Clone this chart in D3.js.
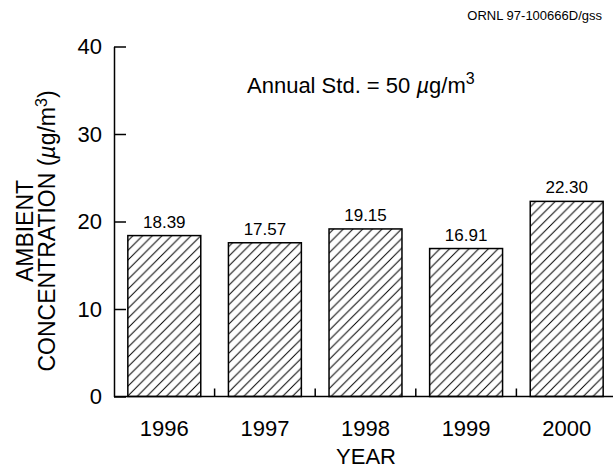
<!DOCTYPE html>
<html><head><meta charset="utf-8">
<script src="https://cdn.jsdelivr.net/npm/d3@7"></script>
<style>body{margin:0;background:#fff}svg{display:block}text{font-family:"Liberation Sans",Arial,Helvetica,sans-serif;fill:#000}</style>
</head><body>
<script>
const years = ["1996","1997","1998","1999","2000"];
const values = [18.39, 17.57, 19.15, 16.91, 22.30];
const valueLabels = ["18.39","17.57","19.15","16.91","22.30"];
const yTicks = [0, 10, 20, 30, 40];

const W = 613, H = 473;
const svg = d3.select("body").append("svg").attr("width", W).attr("height", H);

const defs = svg.append("defs");
const pat = defs.append("pattern").attr("id","hatch").attr("patternUnits","userSpaceOnUse")
  .attr("width",9.7).attr("height",9.7);
pat.append("rect").attr("width",9.7).attr("height",9.7).attr("fill","#fff");
pat.append("path").attr("d","M0,9.7 L9.7,0 M-2.5,2.5 L2.5,-2.5 M7.2,12.2 L12.2,7.2")
  .attr("stroke","#000").attr("stroke-width",1);

const x = d3.scaleBand().domain(years).range([114, 617]).paddingInner(0.275).paddingOuter(0.1375);
const y = d3.scaleLinear().domain([0, 40]).range([396.5, 46.5]);

// bars
svg.append("g").selectAll("rect").data(values).join("rect")
  .attr("x",(d,i)=>x(years[i])).attr("width",x.bandwidth())
  .attr("y",d=>y(d)).attr("height",d=>y(0)-y(d))
  .attr("fill","url(#hatch)").attr("stroke","#000").attr("stroke-width",1.5);

// value labels
svg.append("g").selectAll("text").data(values).join("text")
  .attr("x",(d,i)=>x(years[i])+x.bandwidth()/2).attr("y",d=>y(d)-8)
  .attr("text-anchor","middle").attr("font-size",17).text((d,i)=>valueLabels[i]);

// y axis
const yAxis = d3.axisLeft(y).tickValues(yTicks).tickSizeInner(-12).tickSizeOuter(0).tickPadding(12);
const gy = svg.append("g").attr("transform","translate(114,0)").call(yAxis);
gy.selectAll("path,line").attr("stroke","#000").attr("stroke-width",1.5);
gy.selectAll("text").attr("font-size",22).attr("font-family",null);

// x axis
const xAxis = d3.axisBottom(x).tickSize(0).tickPadding(24);
const gx = svg.append("g").attr("transform","translate(0,"+y(0)+")").call(xAxis);
gx.select("path").attr("d","M114,0H613").attr("stroke","#000").attr("stroke-width",1.5);
gx.selectAll("text").attr("font-size",22).attr("font-family",null);
// boundary ticks
const bounds = years.slice(1).map(yr => x(yr) - x.step()*x.paddingInner()/2);
gx.append("g").selectAll("line").data(bounds).join("line")
  .attr("x1",d=>d).attr("x2",d=>d).attr("y1",0).attr("y2",-8)
  .attr("stroke","#000").attr("stroke-width",1.5);

// axis titles
svg.append("text").attr("x",366).attr("y",464).attr("text-anchor","middle").attr("font-size",22).text("YEAR");
const yt = svg.append("g").attr("transform","translate(0,231) rotate(-90)");
yt.append("text").attr("x",0).attr("y",33).attr("text-anchor","middle").attr("font-size",23).text("AMBIENT");
const t2 = yt.append("text").attr("x",0).attr("y",55).attr("text-anchor","middle").attr("font-size",23);
t2.append("tspan").text("CONCENTRATION (");
t2.append("tspan").attr("font-style","italic").text("\u00b5");
t2.append("tspan").text("g/m");
t2.append("tspan").attr("font-size",16).attr("dy",-8).text("3");
t2.append("tspan").attr("dy",8).text(")");

// annotation
const an = svg.append("text").attr("x",247).attr("y",93).attr("font-size",22);
an.append("tspan").text("Annual Std. = 50 ");
an.append("tspan").attr("font-style","italic").text("\u00b5");
an.append("tspan").text("g/m");
an.append("tspan").attr("font-size",16).attr("dy",-9).text("3");

svg.append("text").attr("x",602).attr("y",20).attr("text-anchor","end").attr("font-size",13).text("ORNL 97-100666D/gss");
</script>
</body></html>
